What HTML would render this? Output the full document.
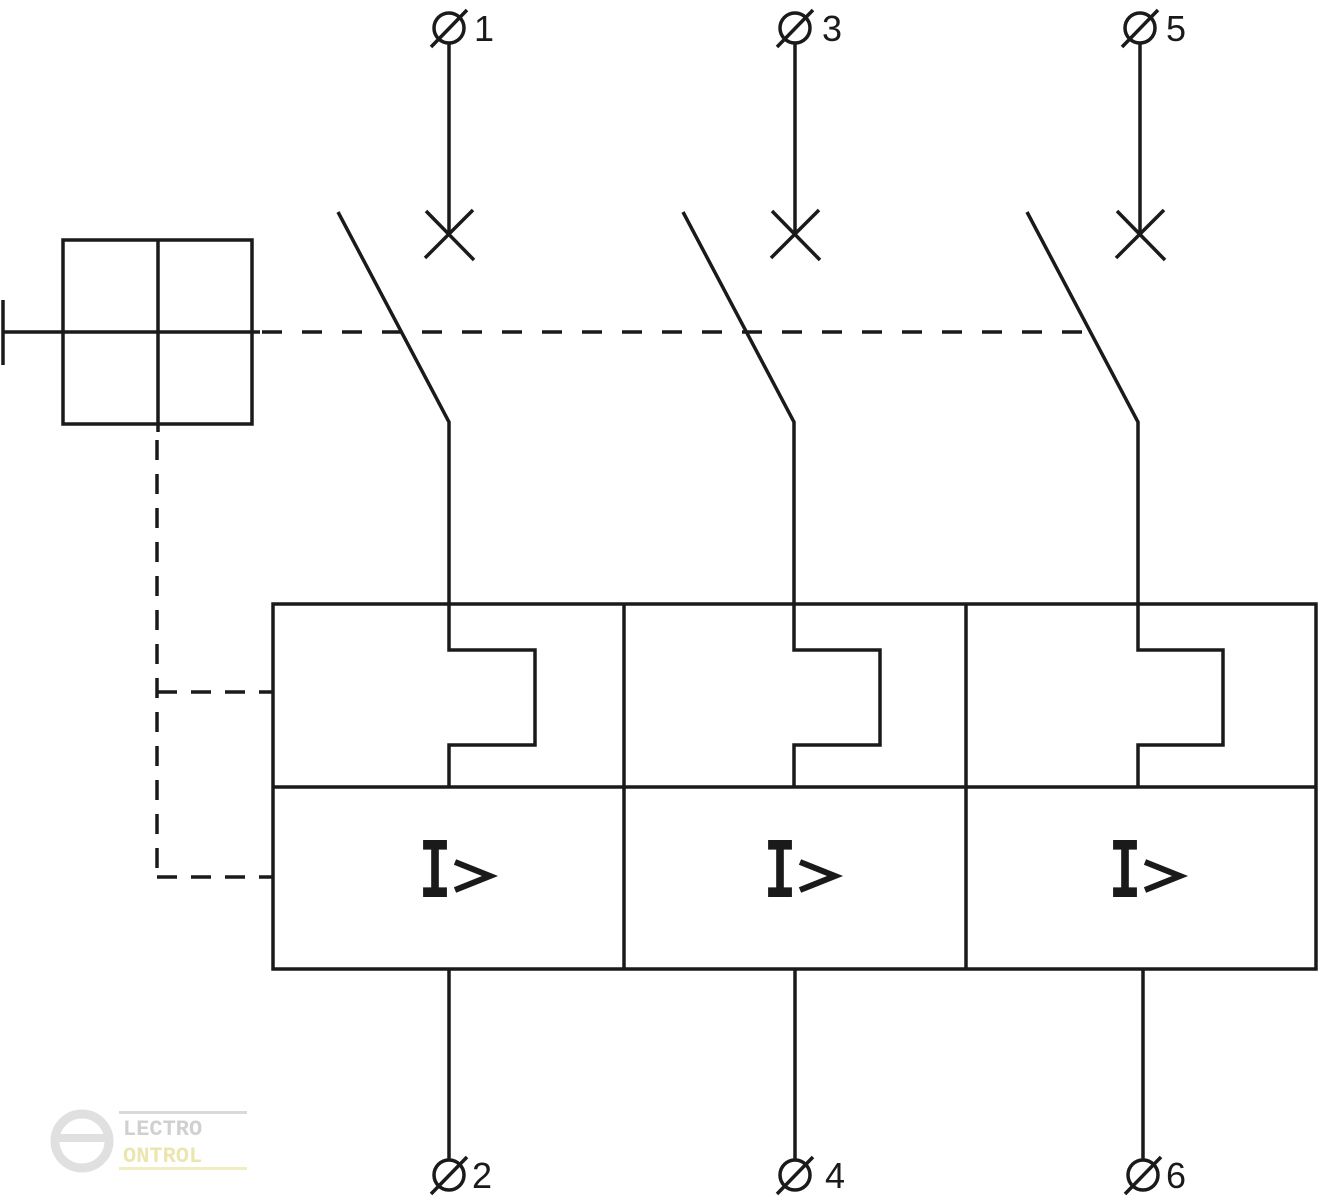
<!DOCTYPE html>
<html><head><meta charset="utf-8"><style>html,body{margin:0;padding:0;background:#fff}svg{display:block}</style></head>
<body>
<svg width="1319" height="1200" viewBox="0 0 1319 1200" xmlns="http://www.w3.org/2000/svg">
<g stroke="#1a1a1a" stroke-width="3.5" fill="none">
  <circle cx="449" cy="28" r="15"/><line x1="431" y1="47" x2="467" y2="10"/>
  <circle cx="795" cy="28" r="15"/><line x1="777" y1="47" x2="813" y2="10"/>
  <circle cx="1140" cy="28" r="15"/><line x1="1122" y1="47" x2="1158" y2="10"/>
  <line x1="449" y1="43" x2="449" y2="235"/>
  <line x1="795" y1="43" x2="795" y2="235"/>
  <line x1="1140" y1="43" x2="1140" y2="235"/>
  <line x1="426" y1="211" x2="474" y2="260"/><line x1="473" y1="210" x2="425" y2="258"/>
  <line x1="772" y1="211" x2="820" y2="260"/><line x1="819" y1="210" x2="771" y2="258"/>
  <line x1="1117" y1="211" x2="1165" y2="260"/><line x1="1164" y1="210" x2="1116" y2="258"/>
  <polyline points="338,212 449,422 449,604"/>
  <polyline points="683,212 794,422 794,604"/>
  <polyline points="1027,212 1138,422 1138,604"/>
  <rect x="63" y="240" width="189" height="184"/>
  <line x1="158" y1="240" x2="158" y2="432"/>
  <line x1="3" y1="332" x2="260" y2="332"/>
  <line x1="3" y1="300" x2="3" y2="365"/>
  <line x1="260" y1="332" x2="1092" y2="332" stroke-dasharray="20,20" stroke-dashoffset="-2"/>
  <line x1="157" y1="440" x2="157" y2="877" stroke-dasharray="20,14"/>
  <line x1="157" y1="692" x2="273" y2="692" stroke-dasharray="20,14"/>
  <line x1="157" y1="877" x2="273" y2="877" stroke-dasharray="20,14"/>
  <rect x="273" y="604" width="1043" height="365"/>
  <line x1="273" y1="787" x2="1316" y2="787"/>
  <line x1="624" y1="604" x2="624" y2="969"/>
  <line x1="966" y1="604" x2="966" y2="969"/>
  <polyline points="449,604 449,650 535,650 535,745 449,745 449,787"/>
  <polyline points="794,604 794,650 880,650 880,745 794,745 794,787"/>
  <polyline points="1138,604 1138,650 1223,650 1223,745 1138,745 1138,787"/>
  <line x1="449" y1="969" x2="449" y2="1160"/>
  <line x1="795" y1="969" x2="795" y2="1160"/>
  <line x1="1143" y1="969" x2="1143" y2="1160"/>
  <circle cx="449" cy="1175" r="15"/><line x1="431" y1="1194" x2="467" y2="1157"/>
  <circle cx="795" cy="1175" r="15"/><line x1="777" y1="1194" x2="813" y2="1157"/>
  <circle cx="1143" cy="1175" r="15"/><line x1="1125" y1="1194" x2="1161" y2="1157"/>
  <polyline points="455,862 490,876 455,890" stroke-width="6"/>
  <polyline points="800,862 835,876 800,890" stroke-width="6"/>
  <polyline points="1145,862 1180,876 1145,890" stroke-width="6"/>
</g>
<g font-family="Liberation Sans, sans-serif" font-size="36" fill="#1a1a1a">
  <text x="474" y="41">1</text><text x="822" y="41">3</text><text x="1166" y="41">5</text>
  <text x="472" y="1188">2</text><text x="825" y="1188">4</text><text x="1166" y="1188">6</text>
</g>
<g font-family="Liberation Mono, monospace" font-weight="bold" font-size="86" fill="#1a1a1a" text-anchor="middle">
  <text transform="translate(435,897) scale(0.62,1)">I</text>
  <text transform="translate(780,897) scale(0.62,1)">I</text>
  <text transform="translate(1125,897) scale(0.62,1)">I</text>
</g>
<g opacity="0.55">
  <circle cx="82" cy="1141" r="27" fill="none" stroke="#c8c8c8" stroke-width="9"/>
  <rect x="55" y="1134" width="50" height="8" fill="#c8c8c8"/>
  <rect x="119" y="1111" width="128" height="3" fill="#bbb"/>
  <rect x="119" y="1167" width="128" height="3" fill="#e8e090"/>
  <text x="123" y="1135" font-family="Liberation Mono, monospace" font-weight="bold" font-size="22" fill="#aaa">LECTRO</text>
  <text x="123" y="1162" font-family="Liberation Mono, monospace" font-weight="bold" font-size="22" fill="#dcd070">ONTROL</text>
</g>
</svg>
</body></html>
